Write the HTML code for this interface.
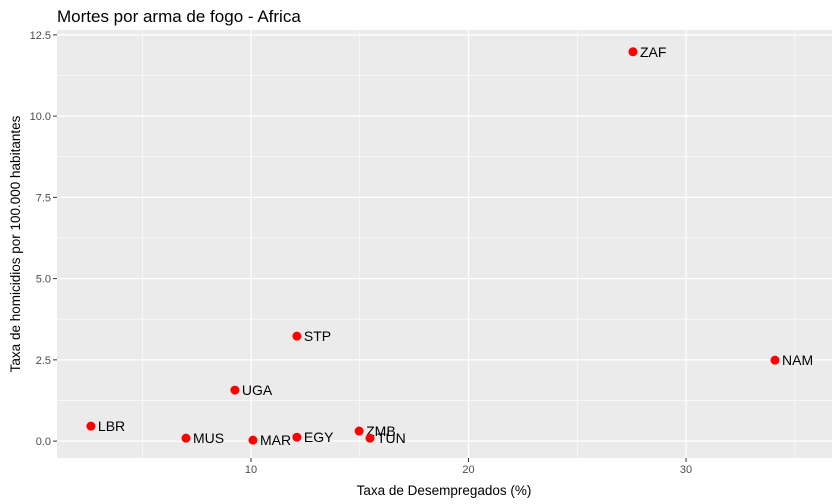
<!DOCTYPE html>
<html><head><meta charset="utf-8"><style>
body{margin:0;background:#fff;}
svg{display:block;font-family:"Liberation Sans",Arial,sans-serif;}
</style></head><body>
<svg id="chart" width="840" height="504">
<text x="57" y="22" font-size="17" fill="#000">Mortes por arma de fogo - Africa</text>
<rect x="57" y="30" width="775" height="428" fill="#ebebeb"/>
<g id="grid"></g><g id="ticks"></g><g id="points"></g>
<text x="444" y="495" font-size="13.5" text-anchor="middle" fill="#000">Taxa de Desempregados (%)</text>
<text transform="translate(20,244) rotate(-90)" font-size="13.5" text-anchor="middle" fill="#000">Taxa de homicidios por 100.000 habitantes</text>
</svg>
<script>
const countries=["LBR","MUS","MAR","EGY","ZMB","TUN","UGA","STP","ZAF","NAM"];
const unemployment=[2.64,7.01,10.09,12.11,14.97,15.47,9.26,12.11,27.56,34.09];
const homicides=[0.46,0.09,0.03,0.12,0.31,0.09,1.57,3.23,11.98,2.49];
const xTicks=[10,20,30];
const yTicks=[0,2.5,5,7.5,10,12.5];
const yTickLabels=["0.0","2.5","5.0","7.5","10.0","12.5"];
const NS="http://www.w3.org/2000/svg";
const X0=57,X1=832,Y0=30,Y1=458,xmin=1.08,xmax=36.71,ymin=-0.52,ymax=12.65;
const sx=v=>X0+(v-xmin)/(xmax-xmin)*(X1-X0);
const sy=v=>Y1-(v-ymin)/(ymax-ymin)*(Y1-Y0);
function mk(tag,attrs,parent){const e=document.createElementNS(NS,tag);for(const k in attrs)e.setAttribute(k,attrs[k]);parent.appendChild(e);return e;}
const grid=document.getElementById('grid'),ticks=document.getElementById('ticks'),pts=document.getElementById('points');
const xMinor=[5,15,25,35];
xMinor.forEach(v=>{const l=mk('line',{x1:sx(v),x2:sx(v),y1:Y0,y2:Y1,stroke:'#fff','stroke-width':0.6},grid);

});
[1.25,3.75,6.25,8.75,11.25].forEach(v=>{const l=mk('line',{x1:X0,x2:X1,y1:sy(v),y2:sy(v),stroke:'#fff','stroke-width':0.6},grid);

});
xTicks.forEach(v=>{const l=mk('line',{x1:sx(v),x2:sx(v),y1:Y0,y2:Y1,stroke:'#fff','stroke-width':1.2},grid);


mk('line',{x1:sx(v),x2:sx(v),y1:Y1,y2:Y1+4,stroke:'#333'},ticks);
const t=mk('text',{x:sx(v),y:Y1+15,'font-size':11,'text-anchor':'middle',fill:'#4d4d4d'},ticks);t.textContent=v;

});
yTicks.forEach((v,i)=>{const l=mk('line',{x1:X0,x2:X1,y1:sy(v),y2:sy(v),stroke:'#fff','stroke-width':1.2},grid);


mk('line',{x1:X0-4,x2:X0,y1:sy(v),y2:sy(v),stroke:'#333'},ticks);
const t=mk('text',{x:X0-6,y:sy(v)+4,'font-size':11,'text-anchor':'end',fill:'#4d4d4d'},ticks);t.textContent=yTickLabels[i];

});
countries.forEach((c,i)=>{const x=sx(unemployment[i]),y=sy(homicides[i]);
const p=mk('circle',{cx:x,cy:y,r:4.5,fill:'#ff0000'},pts);


const t=mk('text',{x:x+7,y:y+5,'font-size':14,fill:'#000'},pts);t.textContent=c;

});
</script>
</body></html>
